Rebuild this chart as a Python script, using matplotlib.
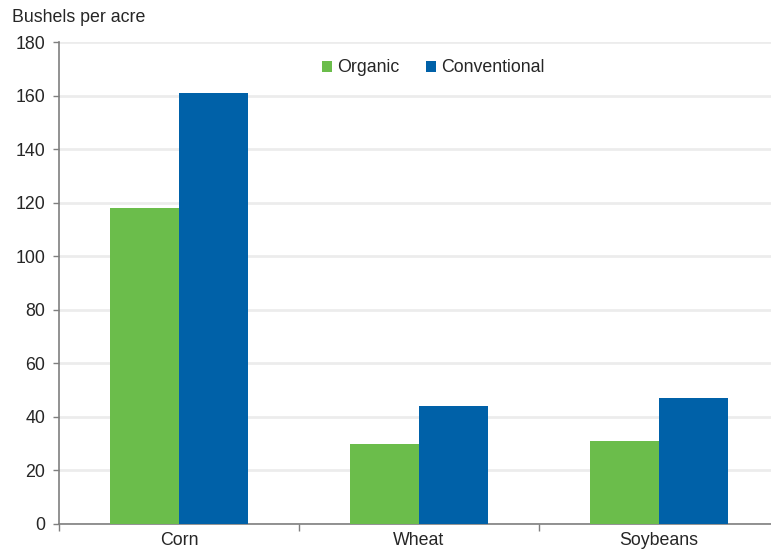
import numpy as np
import matplotlib.pyplot as plt

plt.rcParams['font.family'] = ['Liberation Sans', 'DejaVu Sans']

crops = ['Corn', 'Wheat', 'Soybeans']
organic = [118, 30, 31]
conventional = [161, 44, 47]
series_names = ['Organic', 'Conventional']
yticks = [0, 20, 40, 60, 80, 100, 120, 140, 160, 180]

green = '#6bbd4b'
blue = '#0061a8'
txt = '#262626'
fs = 12.8

W, H = 771, 552
fig = plt.figure(figsize=(W / 100, H / 100), dpi=100)
ax = fig.add_axes([59 / W, 28 / H, 720 / W, 481.7 / H])

x = np.arange(len(crops))
bw = 0.2875
ax.bar(x - bw / 2, organic, bw, color=green, label=series_names[0], zorder=3)
ax.bar(x + bw / 2, conventional, bw, color=blue, label=series_names[1], zorder=3)

ax.set_xlim(-0.5, len(crops) - 0.5)
ax.set_ylim(0, 180)
ax.set_yticks(yticks)
ax.yaxis.grid(True, color='#ececec', linewidth=2, zorder=0)

# ticks at category boundaries, labels at centres
ax.set_xticks(np.arange(len(crops) + 1) - 0.5)
ax.set_xticklabels([])
ax.set_xticks(x, minor=True)
ax.set_xticklabels(crops, minor=True)
ax.tick_params(axis='x', which='major', length=5, color='#7f7f7f', width=1)
ax.tick_params(axis='x', which='minor', length=0, pad=6, labelsize=fs, labelcolor=txt)
ax.tick_params(axis='y', length=4.5, color='#7f7f7f', width=1, pad=5.5, labelsize=fs, labelcolor=txt)

for s in ['top', 'right']:
    ax.spines[s].set_visible(False)
ax.spines['left'].set_color('#7f7f7f')
ax.spines['bottom'].set_color('#7f7f7f')
ax.spines['left'].set_linewidth(1.2)
ax.spines['bottom'].set_linewidth(1.2)

fig.text(12 / W, 1 - 17 / H, 'Bushels per acre', fontsize=fs, color=txt, va='center', ha='left')

fig.legend(loc='center', bbox_to_anchor=(433 / W, 1 - 68 / H), ncol=2, frameon=False,
           fontsize=fs, handlelength=0.6, handleheight=0.6, handletextpad=0.25,
           columnspacing=1.5, labelcolor=txt)

fig.savefig('out.png', dpi=100)
